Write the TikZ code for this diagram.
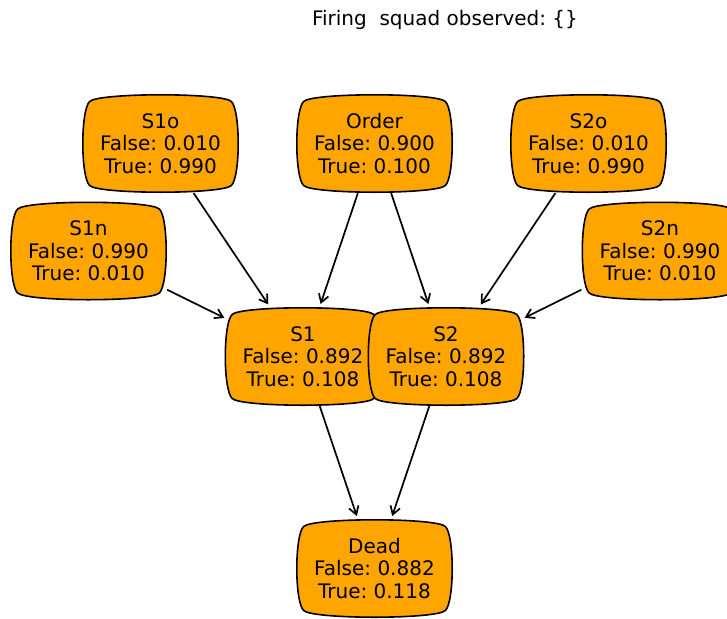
\documentclass[tikz,border=0pt]{standalone}
\usepackage{fontspec}
\setmainfont{DejaVu Sans}
\usetikzlibrary{calc,backgrounds,arrows.meta}
\definecolor{boxorange}{HTML}{FFA500}
\frenchspacing
\newcommand\dr{9}
\newcommand\ins{6.75}
\newcommand\roundfour[1]{%
  \coordinate (#1A) at ($(#1.north west)+(\ins,\ins)$);
  \coordinate (#1B) at ($(#1.north east)+(-\ins,\ins)$);
  \coordinate (#1C) at ($(#1.south east)+(-\ins,-\ins)$);
  \coordinate (#1D) at ($(#1.south west)+(\ins,-\ins)$);
  \path[boxshape] (#1A) .. controls +(\dr,-\dr) and +(-\dr,-\dr) .. (#1B)
    .. controls +(\dr,\dr) and +(\dr,-\dr) .. (#1C)
    .. controls +(-\dr,\dr) and +(\dr,\dr) .. (#1D)
    .. controls +(-\dr,-\dr) and +(-\dr,\dr) .. (#1A) -- cycle;}
\tikzset{
  bn/.style={rectangle, draw=none, minimum width=155pt, minimum height=97pt,
    inner sep=0pt, align=center, font=\fontsize{20}{22.5}\selectfont},
  boxshape/.style={draw=black, line width=1.6pt, fill=boxorange, line join=round},
  edge/.style={line width=1.7pt, -{Straight Barb[length=8pt,width=10pt,line width=1.7pt]},
    shorten >=4pt, shorten <=1pt},
  side/.style={shorten >=1pt}
}
\begin{document}
\begin{tikzpicture}[x=1pt,y=-1pt]
\useasboundingbox (0,0) rectangle (727,618);
\clip (0,0) rectangle (727,618);
\node[font=\fontsize{20}{22.5}\selectfont] (title) at (445,20) {Firing\ \ squad observed: \{\}};
\node[bn] (S1o) at (160.5,143.5) {S1o\\False: 0.010\\True: 0.990};
\node[bn] (Order) at (374.5,143.5) {Order\\False: 0.900\\True: 0.100};
\node[bn] (S2o) at (588.5,143.5) {S2o\\False: 0.010\\True: 0.990};
\node[bn] (S1n) at (88.5,251) {S1n\\False: 0.990\\True: 0.010};
\node[bn] (S2n) at (660,251) {S2n\\False: 0.990\\True: 0.010};
\node[bn] (S1) at (303,356.5) {S1\\False: 0.892\\True: 0.108};
\node[bn] (S2) at (446,356.5) {S2\\False: 0.892\\True: 0.108};
\node[bn] (Dead) at (374.5,568.5) {Dead\\False: 0.882\\True: 0.118};
\begin{scope}[on background layer]
  \roundfour{S1o}
  \roundfour{Order}
  \roundfour{S2o}
  \roundfour{S1n}
  \roundfour{S2n}
  \roundfour{S1}
  \roundfour{S2}
  \roundfour{Dead}
\end{scope}
\draw[edge] (S1o) -- (S1);
\draw[edge] (Order) -- (S1);
\draw[edge] (Order) -- (S2);
\draw[edge] (S2o) -- (S2);
\draw[edge,side] (S1n) -- (S1);
\draw[edge,side] (S2n) -- (S2);
\draw[edge] (S1) -- (Dead);
\draw[edge] (S2) -- (Dead);
\end{tikzpicture}
\end{document}
